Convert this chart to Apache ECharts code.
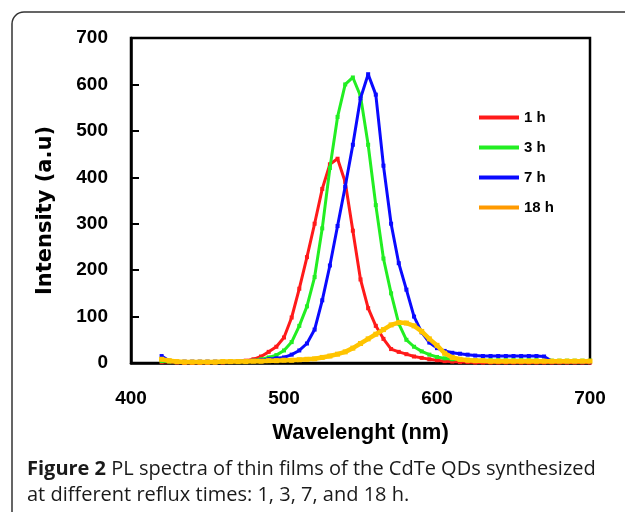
<!DOCTYPE html>
<html>
<head>
<meta charset="utf-8">
<script src="https://cdn.jsdelivr.net/npm/echarts@6/dist/echarts.min.js"></script>
<style>
  html, body { margin: 0; padding: 0; background: #fff; }
  #chart { width: 625px; height: 512px; }
</style>
</head>
<body>
<div id="chart"></div>
<script>
// wavelength (nm), 5 nm steps
var wavelength = [420,425,430,435,440,445,450,455,460,465,470,475,480,485,490,495,500,505,510,515,
  520,525,530,535,540,545,550,555,560,565,570,575,580,585,590,595,600,605,610,615,
  620,625,630,635,640,645,650,655,660,665,670,675,680,685,690,695,700];

var h1 = [2,2,1,0,0,0,0,1,1,2,3,5,8,14,24,35,55,98,160,228,
  300,375,428,440,390,285,180,118,80,52,30,24,19,14,11,8,6,4,3,2,
  2,1,1,1,1,1,1,1,1,1,1,1,1,1,1,1,1];
var h3 = [4,3,2,2,2,2,2,2,2,3,3,4,5,8,12,17,27,45,80,122,
  185,290,420,530,600,615,575,470,340,225,150,85,50,35,25,18,13,10,8,7,
  7,6,6,6,6,6,6,6,6,6,5,5,5,5,5,5,5];
var h7 = [15,5,3,3,3,3,3,3,3,3,4,4,5,6,8,10,12,18,27,42,
  72,135,210,295,380,470,570,622,578,425,300,215,158,100,66,44,32,26,22,20,
  18,16,15,15,15,15,15,15,15,15,14,4,3,3,3,3,3];
var h18 = [8,5,3,2,2,2,2,2,3,3,3,3,4,4,5,5,6,6,7,8,
  9,12,15,19,24,32,42,52,62,72,82,87,86,80,68,52,38,21,12,8,
  6,5,5,4,4,4,4,4,4,4,4,4,4,4,4,4,4];

var names = ['1 h', '3 h', '7 h', '18 h'];
var colors = ['#ff1a1a', '#22ee22', '#0a0aff', '#ffc400'];
var yTicks = [0, 100, 200, 300, 400, 500, 600, 700];

function pairs(vals) {
  return wavelength.map(function (w, i) { return [w, vals[i]]; });
}

var chart = echarts.init(document.getElementById('chart'));

var seriesList = [h1, h3, h7, h18].map(function (vals, i) {
  return {
    name: names[i],
    type: 'line',
    data: pairs(vals),
    symbol: 'rect',
    symbolSize: i === 3 ? 5 : 4,
    showSymbol: true,
    color: colors[i],
    lineStyle: { width: i === 3 ? 4.5 : 3, color: colors[i] },
    itemStyle: { color: colors[i] },
    z: 2 + i,
    animation: false
  };
});

chart.setOption({
  animation: false,
  backgroundColor: '#fff',
  grid: {
    left: 131, right: 35, top: 38, bottom: 149,
    show: true, borderColor: '#000', borderWidth: 2.5
  },
  legend: {
    orient: 'vertical',
    left: 474, top: 105,
    itemWidth: 40, itemHeight: 4,
    itemGap: 15,
    icon: 'rect',
    textStyle: { fontFamily: 'Liberation Sans', fontWeight: 'bold', fontSize: 15, color: '#000' },
    data: [
      { name: '1 h' }, { name: '3 h' }, { name: '7 h' },
      { name: '18 h', itemStyle: { color: '#ff9a00' } }
    ]
  },
  xAxis: {
    type: 'value', min: 400, max: 700, interval: 100,
    name: 'Wavelenght (nm)', nameLocation: 'middle', nameGap: 59,
    nameTextStyle: { fontFamily: 'Liberation Sans', fontWeight: 'bold', fontSize: 22, color: '#000' },
    axisLine: { lineStyle: { color: '#000', width: 2.5 } },
    axisTick: { show: false },
    splitLine: { show: false },
    axisLabel: { margin: 26, fontFamily: 'Liberation Sans', fontWeight: 'bold', fontSize: 19, color: '#000' }
  },
  yAxis: {
    type: 'value', min: yTicks[0], max: yTicks[yTicks.length - 1], interval: 100,
    name: 'Intensity (a.u)', nameLocation: 'middle', nameGap: 75,
    nameTextStyle: { fontFamily: 'DejaVu Sans', fontWeight: 'bold', fontSize: 21, color: '#000', padding: [0, 20, 0, 0] },
    axisLine: { lineStyle: { color: '#000', width: 2.5 } },
    axisTick: { show: true, inside: true, length: 8, lineStyle: { color: '#000', width: 2 } },
    splitLine: { show: false },
    axisLabel: { margin: 23, fontFamily: 'Liberation Sans', fontWeight: 'bold', fontSize: 19, color: '#000' }
  },
  graphic: [
    {
      type: 'rect', z: -10, silent: true,
      shape: { x: 12, y: 12, width: 640, height: 540, r: 12 },
      style: { fill: 'none', stroke: '#333', lineWidth: 1.5 }
    },
    {
      type: 'text', left: 27, top: 456,
      style: {
        text: '{b|Figure 2} PL spectra of thin films of the CdTe QDs synthesized\nat different reflux times: 1, 3, 7, and 18 h.',
        fontFamily: 'Open Sans', fontSize: 20, lineHeight: 26, fill: '#1a1a1a',
        rich: { b: { fontFamily: 'Open Sans', fontWeight: 'bold', fontSize: 20, fill: '#1a1a1a' } }
      }
    }
  ],
  series: seriesList
});
</script>
</body>
</html>
